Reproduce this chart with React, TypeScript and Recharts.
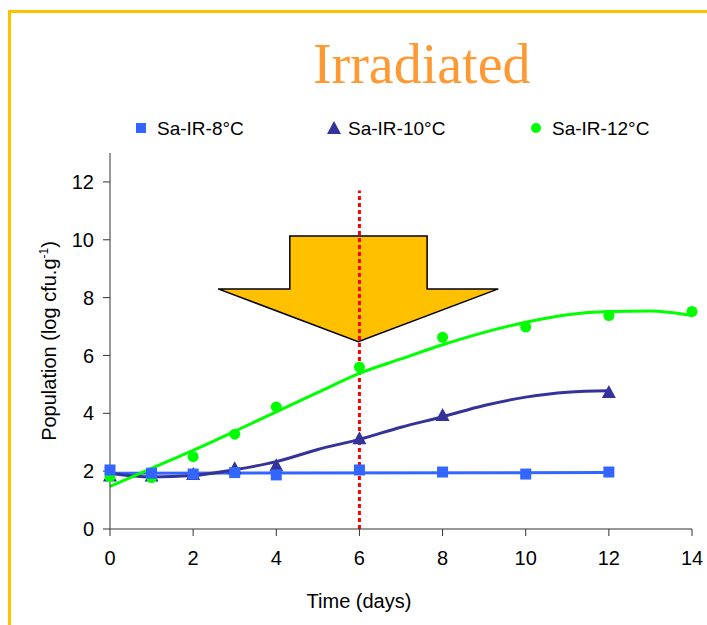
import React from 'react';
import { ComposedChart, Line, Scatter, XAxis, YAxis, ReferenceLine, ReferenceArea } from 'recharts';

// measured points
const days8 = [0, 1, 2, 3, 4, 6, 8, 10, 12];
const sa8 = [2.04, 1.93, 1.9, 1.95, 1.87, 2.04, 1.97, 1.9, 1.97];

const days10 = [0, 1, 2, 3, 4, 6, 8, 12];
const sa10 = [1.85, 1.85, 1.9, 2.1, 2.2, 3.14, 3.94, 4.74];

const days12 = [0, 1, 2, 3, 4, 6, 8, 10, 12, 14];
const sa12 = [1.81, 1.78, 2.5, 3.28, 4.22, 5.6, 6.63, 6.98, 7.38, 7.52];

// fitted curves as drawn
const fitDays8 = [0, 12];
const fit8 = [1.93, 1.95];

const fitDays10 = [0, 1, 2, 3, 4, 5, 6, 7, 8, 9, 10, 11, 12];
const fit10 = [1.93, 1.8, 1.85, 2.05, 2.33, 2.75, 3.1, 3.52, 3.88, 4.27, 4.56, 4.73, 4.78];

const fitDays12 = [0, 1, 2, 3, 4, 5, 6, 7, 8, 9, 10, 11, 12, 13, 14];
const fit12 = [1.47, 2.1, 2.72, 3.38, 4.05, 4.72, 5.38, 5.88, 6.37, 6.8, 7.15, 7.41, 7.52, 7.54, 7.38];

const seriesNames = ['Sa-IR-8°C', 'Sa-IR-10°C', 'Sa-IR-12°C'];
const xTicks = [0, 2, 4, 6, 8, 10, 12, 14];
const yTicks = [0, 2, 4, 6, 8, 10, 12];

// day of irradiation marker + arrow extents (data units)
const markDay = 6;
const markTop = 11.7;
const arrowX = [2.6, 9.34];
const arrowY = [6.48, 10.13];

const toPoints = (xs: number[], ys: number[]) => xs.map((x, i) => ({ x, y: ys[i] }));

const BLUE = '#3366FF';
const NAVY = '#333399';
const GREEN = '#00FF00';
const FONT = '"Liberation Sans", Arial, sans-serif';

const Square = (p: any) => <rect x={p.cx - 5.5} y={p.cy - 5.5} width={11} height={11} fill={BLUE} />;
const Triangle = (p: any) => (
  <polygon points={`${p.cx},${p.cy - 7} ${p.cx + 7},${p.cy + 6} ${p.cx - 7},${p.cy + 6}`} fill={NAVY} />
);
const Dot = (p: any) => <circle cx={p.cx} cy={p.cy} r={5.5} fill={GREEN} />;

const ArrowShape = (p: any) => {
  const { x, y, width: w, height: h } = p;
  const l = x + w * 0.256;
  const r = x + w * 0.746;
  const s = y + h * 0.501;
  const pts = [
    [l, y], [r, y], [r, s], [x + w, s], [x + w / 2, y + h], [x, s], [l, s],
  ].map((q) => q.join(',')).join(' ');
  return <polygon points={pts} fill="#FFC000" stroke="#000" strokeWidth={1.5} />;
};

export default function App() {
  return (
    <div style={{ position: 'absolute', left: 0, top: 0, width: 707, height: 625, overflow: 'hidden', background: '#fff' }}>
      <div
        style={{
          position: 'absolute', left: 8, top: 10, width: 800, height: 700,
          borderLeft: '3px solid #FFC000', borderTop: '3px solid #FFC000',
        }}
      />
      <div style={{ position: 'absolute', left: 0, top: 0 }}>
        <ComposedChart width={707} height={625} margin={{ top: 153, right: 15, bottom: 0, left: 0 }}>
          <XAxis
            type="number"
            dataKey="x"
            domain={[0, 14]}
            ticks={xTicks}
            height={96}
            stroke="#333"
            tickSize={7}
            tickMargin={15}
            tick={{ fontSize: 20, fill: '#000', fontFamily: FONT }}
            allowDuplicatedCategory={false}
          />
          <YAxis
            type="number"
            dataKey="y"
            domain={[0, 13]}
            ticks={yTicks}
            width={110}
            stroke="#333"
            tickSize={7}
            tickMargin={9}
            tick={{ fontSize: 20, fill: '#000', fontFamily: FONT }}
          />
          <ReferenceLine
            segment={[{ x: markDay, y: 0 }, { x: markDay, y: markTop }]}
            stroke="#FF0000"
            strokeWidth={3}
            strokeDasharray="4 3"
          />
          <ReferenceArea
            x1={arrowX[0]}
            x2={arrowX[1]}
            y1={arrowY[0]}
            y2={arrowY[1]}
            shape={ArrowShape}
          />
          <Line data={toPoints(fitDays8, fit8)} dataKey="y" type="linear" stroke={BLUE} strokeWidth={3} dot={false} activeDot={false} isAnimationActive={false} />
          <Line data={toPoints(fitDays10, fit10)} dataKey="y" type="monotone" stroke={NAVY} strokeWidth={3} dot={false} activeDot={false} isAnimationActive={false} />
          <Line data={toPoints(fitDays12, fit12)} dataKey="y" type="monotone" stroke={GREEN} strokeWidth={3} dot={false} activeDot={false} isAnimationActive={false} />
          <Scatter name={seriesNames[1]} data={toPoints(days10, sa10)} shape={Triangle} isAnimationActive={false} />
          <Scatter name={seriesNames[2]} data={toPoints(days12, sa12)} shape={Dot} isAnimationActive={false} />
          <Scatter name={seriesNames[0]} data={toPoints(days8, sa8)} shape={Square} isAnimationActive={false} />
        </ComposedChart>
      </div>
      <svg width={707} height={625} style={{ position: 'absolute', left: 0, top: 0, pointerEvents: 'none' }}>
        <text x={421.7} y={83} textAnchor="middle" fontFamily='"Liberation Serif", "Times New Roman", serif' fontSize={56} fill="#FF9933">
          Irradiated
        </text>
        <rect x={136} y={123} width={10} height={10} fill={BLUE} />
        <text x={157} y={135} fontFamily={FONT} fontSize={19} fill="#000">{seriesNames[0]}</text>
        <polygon points="334,121 341,134 327,134" fill={NAVY} />
        <text x={348} y={135} fontFamily={FONT} fontSize={19} fill="#000">{seriesNames[1]}</text>
        <circle cx={536} cy={128} r={5} fill={GREEN} />
        <text x={552} y={135} fontFamily={FONT} fontSize={19} fill="#000">{seriesNames[2]}</text>
        <text transform="translate(56,341) rotate(-90)" textAnchor="middle" fontFamily={FONT} fontSize={20} fill="#000">
          Population (log cfu.g<tspan dy={-8} fontSize={12}>-1</tspan><tspan dy={8}>)</tspan>
        </text>
        <text x={359} y={608} textAnchor="middle" fontFamily={FONT} fontSize={20} fill="#000">Time (days)</text>
      </svg>
    </div>
  );
}
